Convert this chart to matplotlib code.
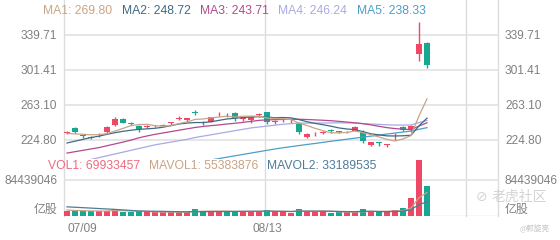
import matplotlib.pyplot as plt

W, H = 560, 240

# daily k-line data (07/09 .. last day)
opens = [232.5, 237.6, 229.8, 227.8, 229.8, 233.3, 241.3, 247.5, 243.8, 240.5,
         239.0, 239.7, 240.5, 243.3, 248.2, 246.5, 254.8, 244.8, 244.9, 252.7,
         254.2, 254.7, 248.2, 246.7, 251.8, 255.1, 244.5, 246.3, 245.2, 243.8,
         228.5, 229.8, 232.2, 235.0, 233.8, 233.0, 235.0, 233.3, 219.8, 222.2,
         219.8, 228.8, 238.7, 236.9, 318.6, 331.3]
closes = [233.0, 233.3, 229.2, 227.2, 230.5, 238.7, 247.5, 243.8, 242.2, 236.5,
          239.6, 240.2, 241.5, 244.0, 248.8, 248.4, 254.0, 244.0, 249.7, 253.2,
          253.8, 248.6, 248.8, 250.3, 252.4, 244.9, 245.2, 247.0, 245.8, 233.9,
          231.1, 230.4, 233.9, 234.4, 233.2, 233.5, 238.7, 224.1, 222.8, 221.6,
          220.4, 229.6, 235.8, 240.5, 329.9, 306.9]
highs = [234.5, 238.5, 231.5, 229.5, 232.5, 240.2, 249.7, 248.5, 244.5, 241.0,
         241.0, 241.5, 242.5, 244.3, 251.0, 248.6, 257.5, 246.0, 250.3, 255.0,
         254.4, 255.0, 250.5, 251.0, 254.5, 255.5, 247.0, 248.5, 247.5, 244.5,
         232.0, 233.0, 235.0, 236.5, 234.5, 235.0, 240.0, 235.8, 223.0, 222.5,
         220.6, 232.2, 240.5, 241.5, 354.3, 332.0]
lows = [231.5, 232.5, 227.5, 225.5, 228.5, 232.5, 240.2, 243.0, 241.5, 233.9,
        237.5, 238.5, 240.0, 241.5, 246.5, 245.0, 252.5, 241.5, 244.5, 251.0,
        250.5, 246.0, 246.0, 243.8, 250.5, 242.0, 242.0, 244.5, 243.5, 231.0,
        226.5, 229.5, 231.5, 232.8, 232.0, 232.0, 234.5, 221.2, 218.6, 218.6,
        217.0, 224.5, 235.0, 233.0, 311.6, 303.3]

ma1 = [232.0, 231.5, 231.0, 230.5, 230.6, 231.8, 234.6, 237.5, 240.5, 241.7,
       241.9, 240.5, 240.0, 240.4, 242.8, 244.6, 247.3, 247.8, 249.0, 249.9,
       250.9, 249.9, 250.8, 250.9, 250.8, 249.0, 248.3, 248.0, 247.1, 243.4,
       240.6, 237.6, 235.0, 232.7, 232.6, 233.1, 234.7, 232.8, 230.5, 228.1,
       225.5, 223.7, 226.0, 229.6, 251.2, 269.8]
ma2 = [221.5, 223.5, 225.5, 227.5, 229.0, 231.0, 232.8, 234.3, 235.5, 236.4,
       237.0, 237.6, 238.8, 240.5, 242.3, 243.3, 243.9, 243.9, 244.7, 246.3,
       247.8, 248.6, 249.3, 250.0, 250.3, 250.0, 249.1, 249.4, 249.0, 247.1,
       244.8, 243.0, 241.5, 239.9, 238.0, 236.8, 236.2, 233.9, 231.6, 230.4,
       229.3, 229.2, 229.4, 230.0, 240.3, 248.7]
ma3 = [210.5, 212.0, 213.5, 215.0, 216.5, 218.5, 220.5, 222.5, 224.7, 227.2,
       229.2, 231.0, 232.5, 234.0, 235.5, 237.0, 238.5, 239.6, 240.5, 241.3,
       242.3, 243.1, 244.1, 245.2, 246.3, 246.8, 247.0, 247.3, 247.5, 247.5,
       247.2, 246.8, 246.4, 245.9, 245.2, 244.4, 243.6, 242.6, 241.3, 239.8,
       238.3, 237.3, 236.6, 236.2, 240.0, 243.7]
ma4 = [199.0, 200.5, 202.0, 203.5, 205.5, 207.5, 209.5, 211.5, 213.5, 215.5,
       217.5, 219.5, 221.0, 222.5, 224.0, 225.5, 227.5, 229.0, 230.5, 232.0,
       233.5, 235.0, 236.5, 238.0, 239.0, 240.0, 241.0, 242.0, 242.7, 243.2,
       243.3, 243.3, 243.4, 243.5, 243.6, 243.5, 243.3, 242.8, 242.3, 241.9,
       241.4, 241.2, 241.1, 241.2, 243.8, 246.2]
ma5 = [176.0, 177.5, 179.0, 180.5, 182.0, 183.5, 185.0, 186.5, 188.0, 189.5,
       191.0, 192.5, 194.0, 195.5, 197.0, 198.5, 200.0, 201.5, 203.0, 204.5,
       206.0, 207.5, 209.0, 210.5, 212.0, 213.5, 215.0, 216.3, 217.5, 218.7,
       219.9, 221.0, 222.2, 223.4, 224.5, 225.7, 226.8, 228.0, 229.0, 230.2,
       231.3, 232.4, 233.5, 234.6, 236.5, 238.3]

# volume, shares
volumes = [11.7e6, 11.0e6, 11.0e6, 12.5e6, 11.7e6, 12.5e6, 15.6e6, 10.2e6, 8.6e6, 11.7e6,
           8.6e6, 8.6e6, 8.6e6, 8.6e6, 9.4e6, 10.2e6, 15.6e6, 11.7e6, 11.0e6, 10.2e6,
           10.2e6, 11.0e6, 11.7e6, 10.2e6, 10.2e6, 14.0e6, 10.2e6, 10.2e6, 7.8e6, 16.4e6,
           12.5e6, 10.2e6, 11.7e6, 6.3e6, 8.6e6, 8.6e6, 10.2e6, 16.4e6, 10.9e6, 8.6e6,
           10.2e6, 14.0e6, 18.0e6, 41.5e6, 131.0e6, 69.9e6]
mavol1 = [14.0e6, 13.0e6, 12.5e6, 12.0e6, 11.6e6, 11.7e6, 12.7e6, 12.5e6, 11.7e6, 11.7e6,
          10.9e6, 9.5e6, 9.2e6, 9.2e6, 8.8e6, 9.1e6, 10.5e6, 11.1e6, 11.6e6, 11.7e6,
          11.7e6, 10.8e6, 10.8e6, 10.7e6, 10.7e6, 11.4e6, 11.3e6, 11.0e6, 10.5e6, 11.7e6,
          11.4e6, 11.4e6, 11.7e6, 11.4e6, 9.9e6, 9.1e6, 9.1e6, 10.0e6, 10.9e6, 10.9e6,
          11.3e6, 12.0e6, 12.3e6, 18.5e6, 42.9e6, 55.4e6]
mavol2 = [21.5e6, 20.5e6, 19.5e6, 18.5e6, 17.5e6, 16.5e6, 15.5e6, 14.3e6, 13.0e6, 11.7e6,
          11.3e6, 11.1e6, 10.9e6, 10.5e6, 10.2e6, 10.0e6, 10.0e6, 10.2e6, 10.4e6, 10.3e6,
          10.4e6, 10.7e6, 11.0e6, 11.1e6, 11.2e6, 11.6e6, 11.0e6, 10.9e6, 10.6e6, 11.2e6,
          11.4e6, 11.3e6, 11.3e6, 11.0e6, 10.8e6, 10.3e6, 10.3e6, 10.9e6, 11.2e6, 10.4e6,
          10.2e6, 10.6e6, 11.2e6, 14.7e6, 26.9e6, 33.2e6]

price_ticks = [224.80, 263.10, 301.41, 339.71]
price_labels = ['224.80', '263.10', '301.41', '339.71']
vol_ticks = [0, 84439046]
vol_labels = ['亿股', '84439046']
date_ticks = [0, 25]
date_labels = ['07/09', '08/13']

ma_header = ['MA1: 269.80', 'MA2: 248.72', 'MA3: 243.71', 'MA4: 246.24', 'MA5: 238.33']
vol_header = ['VOL1: 69933457', 'MAVOL1: 55383876', 'MAVOL2: 33189535']

RED = '#ee4866'
GREEN = '#17a891'
GRID = '#e4e4e4'
TXT = '#808080'
ma_colors = ['#c8a486', '#3f6a84', '#b4498c', '#a8aae4', '#4f9dc8']
vol_colors = ['#ef6a80', '#c8a486', '#4f7a98']

plt.rcParams['font.family'] = ['Liberation Sans', 'Noto Sans CJK SC', 'DejaVu Sans']

fig = plt.figure(figsize=(W / 100, H / 100), dpi=100)
ax = fig.add_axes([64 / W, 1 - 159 / H, 434 / W, 141 / H])
axv = fig.add_axes([64 / W, 1 - 216 / H, 434 / W, 58 / H])
axv.patch.set_alpha(0)

idx = list(range(len(closes)))
up = [c >= o for o, c in zip(opens, closes)]
colors = [RED if u else GREEN for u in up]

# gridlines
for t in price_ticks:
    ax.axhline(t, color=GRID, lw=1.3, zorder=0)
axv.axhline(vol_ticks[1], color=GRID, lw=1.3, zorder=0)
axv.axhline(0, color='#d8d8d8', lw=1.0, zorder=0)
for xv in [-0.375, 24.75, 49.875, 53.875]:
    ax.axvline(xv, ymin=-0.404, ymax=1.13, color='#dcdcdc', lw=1.0,
               clip_on=False, zorder=0)

# candles
bottoms = [min(o, c) for o, c in zip(opens, closes)]
heights = [max(abs(c - o), 0.9) for o, c in zip(opens, closes)]
ax.vlines(idx, lows, highs, colors=colors, lw=1.0, zorder=2)
ax.bar(idx, heights, bottom=bottoms, width=0.72, color=colors, lw=0, zorder=3)

for m, col in zip([ma5, ma4, ma3, ma2, ma1], ma_colors[::-1]):
    ax.plot(idx, m, color=col, lw=0.9, zorder=4)

# volume
axv.bar(idx, volumes, width=0.72, color=colors, lw=0, zorder=2)
axv.plot(idx, mavol1, color=vol_colors[1], lw=0.9, zorder=3)
axv.plot(idx, mavol2, color=vol_colors[2], lw=0.9, zorder=3)

ax.set_xlim(-0.375, 53.875)
axv.set_xlim(-0.375, 53.875)
ax.set_ylim(204.0, 358.3)
axv.set_ylim(0, 136.0e6)

for a in (ax, axv):
    for s in a.spines.values():
        s.set_visible(False)

ax.set_yticks(price_ticks)
ax.set_yticklabels(price_labels)
ax.set_xticks([])
ax.tick_params(axis='y', length=0, labelsize=8.6, labelcolor=TXT,
               labelleft=True, labelright=True, pad=5)

axv.set_yticks(vol_ticks)
axv.set_yticklabels(vol_labels)
axv.tick_params(axis='y', length=0, labelsize=8.6, labelcolor=TXT,
                labelleft=True, labelright=True, pad=5)
for lbl in axv.get_yticklabels(which='both'):
    if lbl.get_text() == '亿股':
        lbl.set_va('bottom')

axv.set_xticks(date_ticks)
axv.set_xticklabels(date_labels)
axv.tick_params(axis='x', length=0, labelsize=8.6, labelcolor=TXT, pad=5)
axv.get_xticklabels()[0].set_ha('left')
axv.get_xticklabels()[0].set_x(-0.375)

# headers
ma_x = [43, 122, 200, 278, 357]
for txt, x, col in zip(ma_header, ma_x, ma_colors):
    fig.text(x / W, 1 - 11 / H, txt, color=col, fontsize=8.7, va='center')
vol_x = [48, 149, 267]
for txt, x, col in zip(vol_header, vol_x, vol_colors):
    fig.text(x / W, 1 - 166 / H, txt, color=col, fontsize=8.7, va='center')

# watermark
fig.text(476 / W, 1 - 197 / H, '⊘', color='#d4d4d4', fontsize=10,
         va='center', family=['DejaVu Sans'])
fig.text(492 / W, 1 - 197 / H, '老虎社区', color='#d4d4d4', fontsize=10,
         va='center', family=['Noto Sans CJK SC'])
fig.text(550 / W, 1 - 229 / H, '@郭旋亮', color='#c4c4c4', fontsize=5.5,
         va='center', ha='right', family=['Noto Sans CJK SC'])

fig.savefig('out.png', dpi=100)
